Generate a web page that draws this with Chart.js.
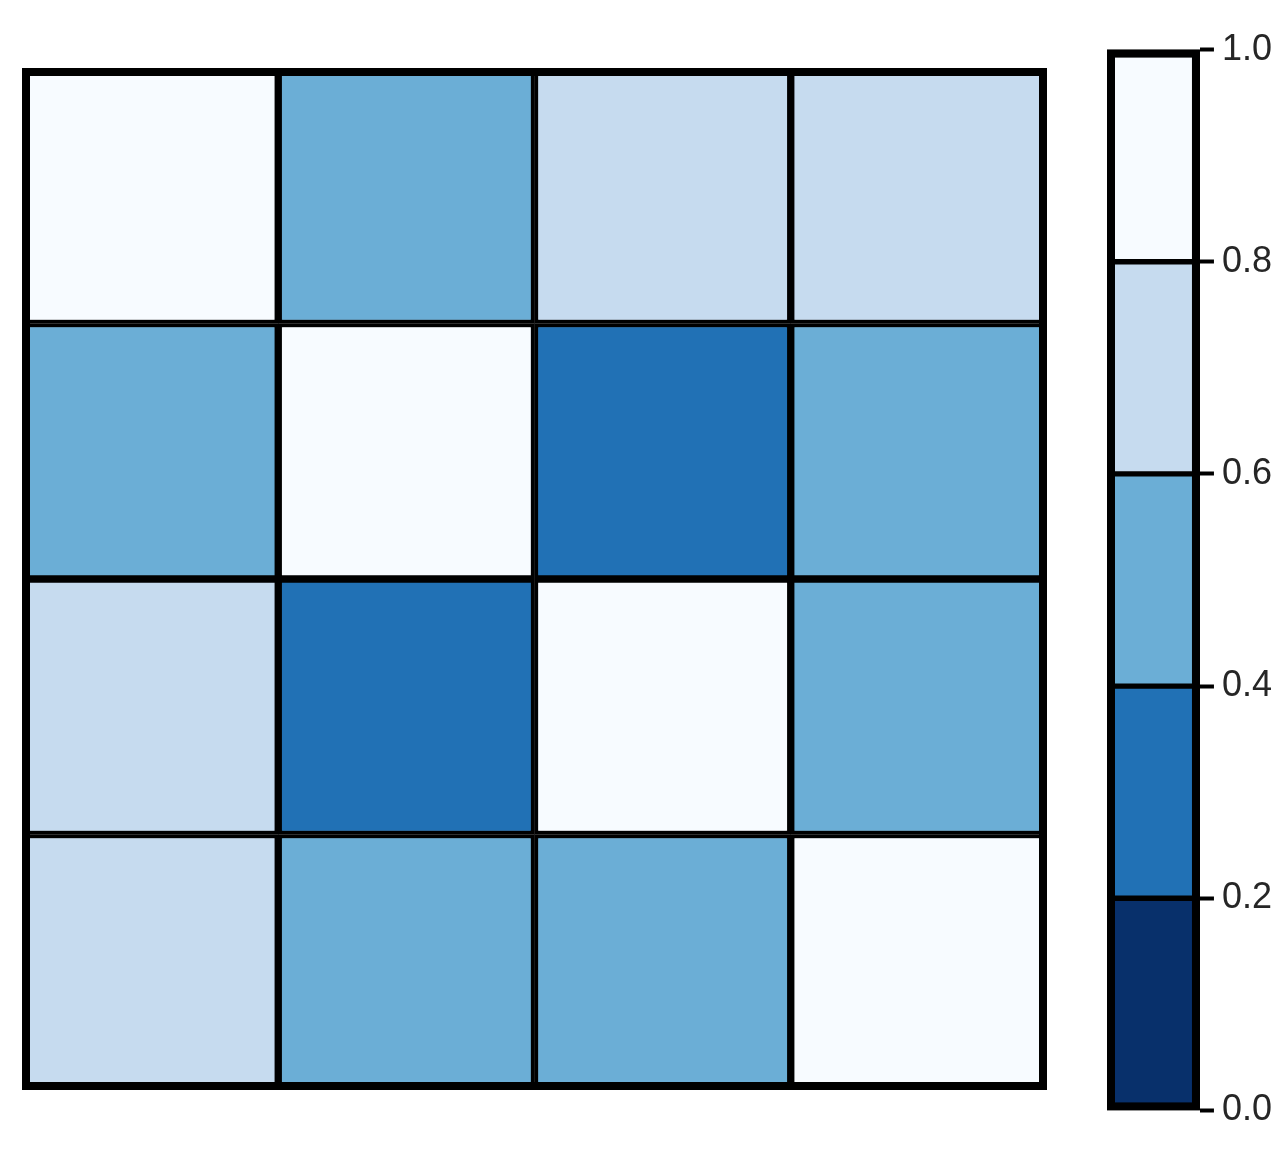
<!DOCTYPE html>
<html><head><meta charset="utf-8">
<script src="https://cdn.jsdelivr.net/npm/chart.js@4"></script>
<style>body{margin:0;background:#fff;width:1280px;height:1167px;position:relative;overflow:hidden}
canvas{position:absolute}</style></head>
<body>
<div id="h" style="position:absolute;left:18px;top:64px;width:1033px;height:1030px"><canvas id="c1"></canvas></div>
<div id="b" style="position:absolute;left:1103px;top:20px;width:177px;height:1120px"><canvas id="c2"></canvas></div>
<script>
const cols = ["A","B","C","D"];
const rows = ["A","B","C","D"];
const values = [
  [1.0,0.5,0.7,0.7],
  [0.5,1.0,0.3,0.5],
  [0.7,0.3,1.0,0.5],
  [0.7,0.5,0.5,1.0]
];
const bounds = [0,0.2,0.4,0.6,0.8,1.0];
const palette = ["#08306b","#2171b5","#6baed6","#c6dbef","#f7fbff"];
const tickLabels = ["0.0","0.2","0.4","0.6","0.8","1.0"];
function colorOf(v){let i=Math.min(4,Math.floor(v/0.2+1e-9));return palette[i];}
const frame = {id:'frame',afterDraw(ch,a,o){const c=ch.ctx,ar=ch.chartArea;c.save();c.strokeStyle='#000';c.lineWidth=o.w;c.strokeRect(ar.left+o.w/2,ar.top+o.w/2,ar.right-ar.left-o.w,ar.bottom-ar.top-o.w);c.restore();}};
new Chart(document.getElementById('c1'),{type:'bar',
 data:{labels:cols,datasets:rows.map((r,i)=>({label:r,data:cols.map(()=>1),backgroundColor:values[i].map(colorOf),borderColor:'#000',borderWidth:4,borderSkipped:false,barPercentage:1,categoryPercentage:1}))},
 options:{responsive:true,maintainAspectRatio:false,animation:false,layout:{padding:4},
  plugins:{legend:{display:false},tooltip:{enabled:false},frame:{w:8}},
  scales:{x:{display:false,stacked:true},y:{display:false,stacked:true,min:0,max:4,reverse:true}}},
 plugins:[frame]});
new Chart(document.getElementById('c2'),{type:'bar',
 data:{labels:[""],datasets:palette.map((p,i)=>({data:[bounds[i+1]-bounds[i]],backgroundColor:p,borderColor:'#000',borderWidth:3,borderSkipped:false,barPercentage:1,categoryPercentage:1}))},
 options:{responsive:true,maintainAspectRatio:false,animation:false,layout:{padding:{top:20,bottom:2,left:4,right:0}},
  plugins:{legend:{display:false},tooltip:{enabled:false},frame:{w:8}},
  scales:{x:{display:false,stacked:true},
   y:{stacked:true,position:'right',min:0,max:1,border:{display:false},
    grid:{drawOnChartArea:false,tickLength:14,tickWidth:4,color:'#000'},
    ticks:{stepSize:0.2,padding:8,color:'#262626',font:{family:'Liberation Sans, Arial',size:36},callback:(v,i)=>tickLabels[i]}}}},
 plugins:[frame]});
</script></body></html>
